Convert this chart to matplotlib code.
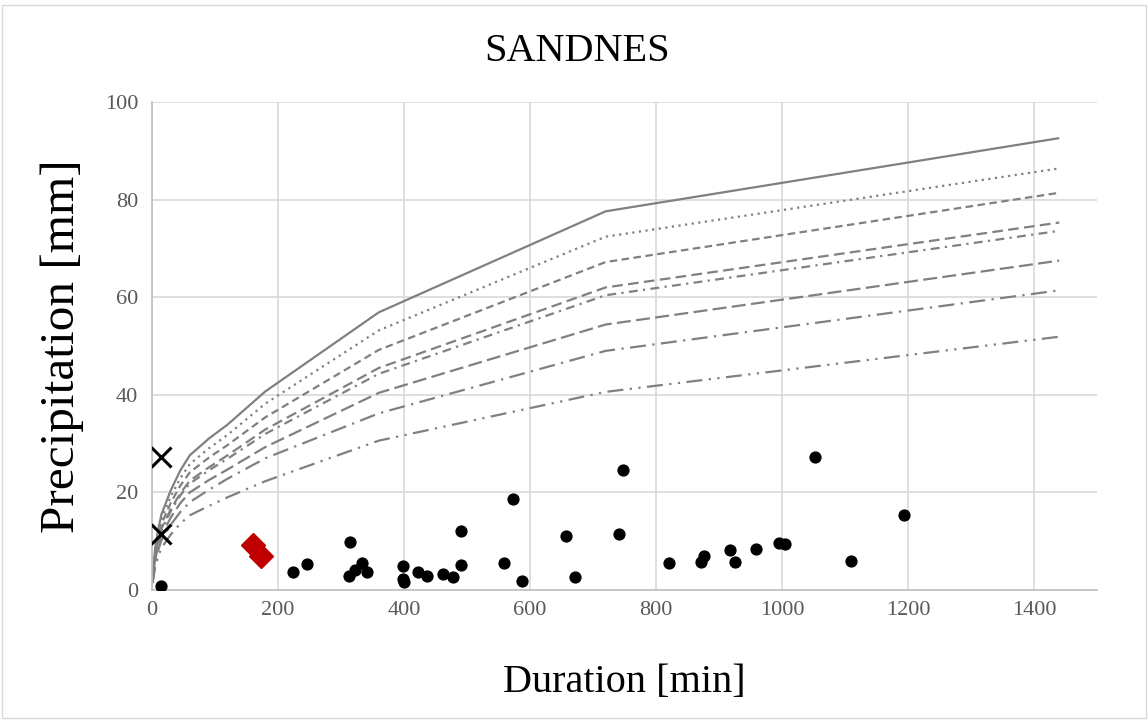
import matplotlib
matplotlib.use("Agg")
import matplotlib.pyplot as plt
from matplotlib.patches import Rectangle

# Durations of the IDF curves [min]
durations = [1, 5, 10, 15, 30, 45, 60, 90, 120, 180, 360, 720, 1440]

# IDF curves, highest to lowest return period [mm]
idf_1 = [2.5, 8.5, 12.5, 15.5, 20.5, 24.5, 27.6, 31.0, 33.9, 40.7, 56.9, 77.6, 92.6]
idf_2 = [2.3, 7.9, 11.7, 14.5, 19.2, 22.9, 25.8, 29.0, 31.8, 38.2, 53.2, 72.4, 86.4]
idf_3 = [2.2, 7.4, 10.9, 13.5, 17.9, 21.4, 24.1, 27.1, 29.7, 35.4, 49.2, 67.2, 81.4]
idf_4 = [2.0, 6.9, 10.1, 12.6, 16.6, 19.8, 22.4, 25.1, 27.6, 32.9, 45.5, 62.0, 75.3]
idf_5 = [2.0, 6.7, 9.9, 12.2, 16.2, 19.4, 21.8, 24.5, 26.9, 32.0, 44.3, 60.4, 73.6]
idf_6 = [1.8, 6.2, 9.1, 11.2, 14.9, 17.8, 20.0, 22.5, 24.7, 29.3, 40.4, 54.4, 67.5]
idf_7 = [1.6, 5.6, 8.2, 10.2, 13.4, 16.0, 18.0, 20.5, 22.8, 27.0, 36.2, 49.0, 61.4]
idf_8 = [1.4, 4.7, 6.9, 8.6, 11.4, 13.6, 15.3, 17.2, 19.0, 22.3, 30.6, 40.6, 51.9]

# observed events
obs_dur = [15, 224, 246, 315, 312, 322, 333, 342, 398, 399, 400, 423, 437, 462, 477,
           490, 490, 559, 573, 588, 657, 671, 742, 747, 821, 872, 876, 917, 925, 958,
           995, 1005, 1052, 1110, 1193]
obs_prec = [0.8, 3.75, 5.3, 9.8, 2.9, 4.0, 5.6, 3.75, 4.9, 2.2, 1.7, 3.75, 2.9, 3.3, 2.6,
            12.15, 5.1, 5.5, 18.6, 1.85, 11.1, 2.7, 11.4, 24.6, 5.6, 5.7, 7.0, 8.2, 5.7, 8.3,
            9.7, 9.4, 27.2, 5.9, 15.4]

cross_dur = [15, 15]
cross_prec = [27.3, 11.5]

diamond_dur = [160, 173]
diamond_prec = [9.2, 7.0]

line_styles = [
    "-",
    (0, (1, 2)),
    (0, (3.4, 2)),
    (0, (4.8, 2.4)),
    (0, (4, 2.4, 1, 2.4)),
    (0, (6.3, 2.4)),
    (0, (7.2, 2.9, 1, 2.9)),
    (0, (7.2, 2.9, 1, 2.9, 1, 2.9)),
]

plt.rcParams['font.family'] = ['Liberation Serif', 'DejaVu Serif']

fig = plt.figure(figsize=(11.48, 7.2), dpi=100)
ax = fig.add_axes([0.1324, 0.1806, 0.8232, 0.6777])

for y, ls in zip([idf_1, idf_2, idf_3, idf_4, idf_5, idf_6, idf_7, idf_8], line_styles):
    ax.plot(durations, y, color="#808080", linestyle=ls, linewidth=1.6,
            solid_capstyle="butt", dash_capstyle="butt", zorder=2)

ax.plot(obs_dur, obs_prec, linestyle="none", marker="o", markersize=7.8,
        color="black", zorder=3)
ax.plot(cross_dur, cross_prec, linestyle="none", marker="x", markersize=15,
        markeredgewidth=2.2, color="black", zorder=3)
ax.plot(diamond_dur, diamond_prec, linestyle="none", marker="D", markersize=12,
        color="#C00000", zorder=3)

ax.set_xlim(0, 1500)
ax.set_ylim(0, 100)
ax.set_xticks(range(0, 1401, 200))
ax.set_yticks(range(0, 101, 20))
ax.grid(True, color="#d9d9d9", linewidth=1.2)
ax.set_axisbelow(True)
ax.tick_params(length=0, labelsize=16, labelcolor="#595959", pad=8)
ax.tick_params(axis="y", pad=10)
for side in ["top", "right"]:
    ax.spines[side].set_visible(False)
for side in ["left", "bottom"]:
    ax.spines[side].set_color("#bfbfbf")
    ax.spines[side].set_linewidth(1.2)

ax.set_xlabel("Duration [min]", fontsize=29)
ax.xaxis.set_label_coords(0.5, -0.152)
ax.set_ylabel("Precipitation [mm]", fontsize=35.5)
ax.yaxis.set_label_coords(-0.072, 0.5)
fig.text(0.5026, 0.928, "SANDNES", fontsize=29, ha="center", va="center")

fig.patches.append(Rectangle((0.002, 0.003), 0.996, 0.99, transform=fig.transFigure,
                             fill=False, edgecolor="#d9d9d9", linewidth=1))

fig.savefig("out.png", dpi=100)
